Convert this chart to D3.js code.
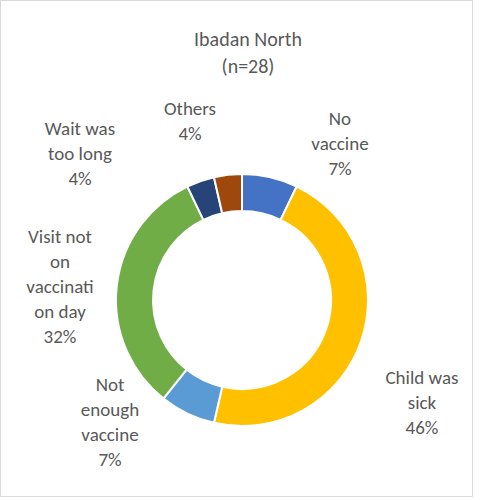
<!DOCTYPE html>
<html>
<head>
<meta charset="utf-8">
<script src="https://cdn.jsdelivr.net/npm/d3@7"></script>
<style>
body { margin: 0; background: #fff; }
text { font-family: Carlito, Calibri, "Liberation Sans", sans-serif; fill: #595959; }
</style>
</head>
<body>
<div id="chart"></div>
<script>
// data (counts out of n=28)
var categories = ["No vaccine", "Child was sick", "Not enough vaccine", "Visit not on vaccination day", "Wait was too long", "Others"]
var counts = [2, 13, 2, 9, 1, 1]
var percents = ["7%", "46%", "7%", "32%", "4%", "4%"]
var labelLines = [["No", "vaccine"], ["Child was", "sick"], ["Not", "enough", "vaccine"],
                  ["Visit not", "on", "vaccinati", "on day"], ["Wait was", "too long"], ["Others"]]
var colors = ["#4472C4", "#FFC000", "#5B9BD5", "#70AD47", "#264478", "#9E480E"]

// label anchor points (layout only)
var labelPos = [[340, 118], [422, 377], [110, 384], [60, 236], [80, 128], [190, 108]]

var width = 480, height = 500
var cx = 242, cy = 300, outerR = 126, innerR = 89

var svg = d3.select("#chart").append("svg")
  .attr("width", width).attr("height", height)

svg.append("rect")
  .attr("x", 0.5).attr("y", 0.5).attr("width", 472).attr("height", 496)
  .attr("fill", "#fff").attr("stroke", "#d9d9d9")

svg.append("text").attr("x", 248).attr("y", 46).attr("text-anchor", "middle")
  .attr("font-size", 20).text("Ibadan North")
svg.append("text").attr("x", 248).attr("y", 73).attr("text-anchor", "middle")
  .attr("font-size", 20).text("(n=28)")

var pie = d3.pie().sort(null).value(function(d) { return d })
var arc = d3.arc().innerRadius(innerR).outerRadius(outerR)

var g = svg.append("g").attr("transform", "translate(" + cx + "," + cy + ")")
g.selectAll("path")
  .data(pie(counts))
  .enter()
  .append("path")
  .attr("d", arc)
  .attr("fill", function(d, i) { return colors[i] })
  .attr("stroke", "#fff")
  .attr("stroke-width", 2)

var lineH = 25
categories.forEach(function(c, i) {
  var lines = labelLines[i].concat([percents[i]])
  var t = svg.append("text")
    .attr("text-anchor", "middle")
    .attr("font-size", 19)
  lines.forEach(function(l, j) {
    t.append("tspan").attr("x", labelPos[i][0]).attr("y", labelPos[i][1] + j * lineH + 7).text(l)
  })
})
</script>
</body>
</html>
